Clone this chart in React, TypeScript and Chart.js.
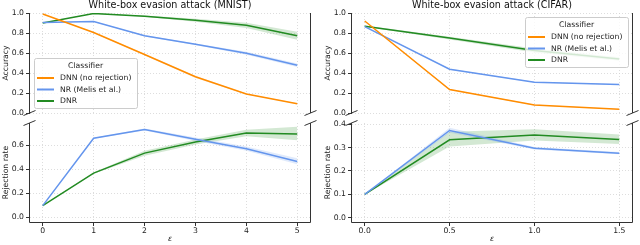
import React, { useEffect, useRef } from "react";
import { Chart, registerables } from "chart.js";
Chart.register(...registerables);

// ---------- data ----------
const mnistEps = [0, 1, 2, 3, 4, 5];
const cifarEps = [0, 0.5, 1.0, 1.5];
const mnistXTicks = [0, 1, 2, 3, 4, 5];
const cifarXTicks = [0, 0.5, 1.0, 1.5];
const accYTicks = [0, 0.2, 0.4, 0.6, 0.8, 1.0];
const mnistRejYTicks = [0, 0.2, 0.4, 0.6];
const cifarRejYTicks = [0, 0.1, 0.2, 0.3, 0.4];

const seriesNames = ["DNN (no rejection)", "NR (Melis et al.)", "DNR"];
const legendTitle = "Classifier";
const titles = ["White-box evasion attack (MNIST)", "White-box evasion attack (CIFAR)"];
const yTitles = ["Accuracy", "Rejection rate"];
const xTitle = "\u03b5";

// MNIST accuracy
const mnistAccDNN = [0.99, 0.805, 0.585, 0.362, 0.19, 0.093];
const mnistAccDNNLo = [0.99, 0.8, 0.578, 0.35, 0.184, 0.089];
const mnistAccDNNHi = [0.99, 0.81, 0.592, 0.372, 0.196, 0.097];
const mnistAccNR = [0.905, 0.915, 0.772, 0.688, 0.597, 0.477];
const mnistAccNRLo = [0.905, 0.912, 0.766, 0.68, 0.582, 0.46];
const mnistAccNRHi = [0.905, 0.918, 0.778, 0.696, 0.612, 0.494];
const mnistAccDNR = [0.9, 0.995, 0.968, 0.928, 0.878, 0.772];
const mnistAccDNRLo = [0.9, 0.992, 0.962, 0.912, 0.85, 0.732];
const mnistAccDNRHi = [0.9, 0.998, 0.974, 0.942, 0.902, 0.812];

// MNIST rejection rate
const mnistRejNR = [0.097, 0.656, 0.728, 0.648, 0.57, 0.464];
const mnistRejNRLo = [0.097, 0.652, 0.72, 0.634, 0.552, 0.44];
const mnistRejNRHi = [0.097, 0.66, 0.738, 0.662, 0.588, 0.49];
const mnistRejDNR = [0.097, 0.367, 0.533, 0.625, 0.7, 0.692];
const mnistRejDNRLo = [0.097, 0.362, 0.512, 0.605, 0.672, 0.64];
const mnistRejDNRHi = [0.097, 0.372, 0.553, 0.645, 0.726, 0.752];

// CIFAR accuracy
const cifarAccDNN = [0.92, 0.234, 0.08, 0.037];
const cifarAccDNNLo = [0.917, 0.229, 0.076, 0.034];
const cifarAccDNNHi = [0.923, 0.239, 0.084, 0.04];
const cifarAccNR = [0.863, 0.438, 0.308, 0.284];
const cifarAccNRLo = [0.86, 0.433, 0.304, 0.28];
const cifarAccNRHi = [0.866, 0.443, 0.312, 0.288];
const cifarAccDNR = [0.868, 0.749, 0.625, 0.54];
const cifarAccDNRLo = [0.862, 0.735, 0.605, 0.522];
const cifarAccDNRHi = [0.874, 0.763, 0.645, 0.558];

// CIFAR rejection rate
const cifarRejNR = [0.1, 0.373, 0.297, 0.276];
const cifarRejNRLo = [0.1, 0.363, 0.292, 0.271];
const cifarRejNRHi = [0.1, 0.385, 0.302, 0.281];
const cifarRejDNR = [0.1, 0.333, 0.354, 0.334];
const cifarRejDNRLo = [0.1, 0.305, 0.33, 0.315];
const cifarRejDNRHi = [0.1, 0.368, 0.378, 0.356];

// ---------- styles ----------
const COLORS = ["#ff8c00", "#6495ed", "#228b22"];
const BAND_ALPHA = 0.2;
const FONT = "'DejaVu Sans'";
const TICK_SIZE = 7.7;
const GRID_COLOR = "#d4d4d4";
const SPINE = "#333333";

function rgba(hex: string, a: number) {
  const n = parseInt(hex.slice(1), 16);
  return `rgba(${(n >> 16) & 255},${(n >> 8) & 255},${n & 255},${a})`;
}

interface Series { mid: number[]; lo: number[]; hi: number[]; color: string }
interface Area { left: number; right: number; top: number; bottom: number }
interface PanelSpec {
  part: "top" | "bottom";
  area: Area;
  eps: number[];
  xTicks: number[];
  xMin: number;
  xMax: number;
  xDecimals: number;
  yTicks: number[];
  yMin: number;
  yMax: number;
  yTitle: string;
  series: Series[];
  title?: string;
  legend?: "lowerleft" | "upperright";
}

const W = 640;
const H = 245;
const YAXIS_W = 30;
const XAXIS_H = 23;

function drawLegend(ctx: CanvasRenderingContext2D, x: number, y: number) {
  const w = 103, h = 50;
  ctx.save();
  ctx.beginPath();
  if ((ctx as any).roundRect) (ctx as any).roundRect(x + 0.5, y + 0.5, w, h, 2);
  else ctx.rect(x + 0.5, y + 0.5, w, h);
  ctx.fillStyle = "rgba(255,255,255,0.8)";
  ctx.fill();
  ctx.strokeStyle = "#cccccc";
  ctx.lineWidth = 1;
  ctx.stroke();
  ctx.fillStyle = "#222";
  ctx.font = `${TICK_SIZE}px ${FONT}`;
  ctx.textBaseline = "middle";
  ctx.textAlign = "center";
  ctx.fillText(legendTitle, x + w / 2, y + 8);
  ctx.textAlign = "left";
  seriesNames.forEach((name, i) => {
    const yy = y + 20 + i * 11.5;
    ctx.strokeStyle = COLORS[i];
    ctx.lineWidth = 2;
    ctx.beginPath();
    ctx.moveTo(x + 3, yy);
    ctx.lineTo(x + 20, yy);
    ctx.stroke();
    ctx.fillStyle = "#222";
    ctx.fillText(name, x + 26, yy + 0.5);
  });
  ctx.restore();
}

function makeDecor(spec: PanelSpec) {
  return {
    id: "decor",
    afterDraw(chart: any) {
      const ctx: CanvasRenderingContext2D = chart.ctx;
      const { left, right, top, bottom } = chart.chartArea;
      ctx.save();
      ctx.strokeStyle = SPINE;
      ctx.lineWidth = 1;
      const L = Math.round(left) - 0.5;
      const R = Math.round(right) + 0.5;
      ctx.beginPath();
      ctx.moveTo(L, top);
      ctx.lineTo(L, bottom + (spec.part === "bottom" ? 0.5 : 0));
      ctx.moveTo(R, top);
      ctx.lineTo(R, bottom + (spec.part === "bottom" ? 0.5 : 0));
      if (spec.part === "bottom") {
        const B = Math.round(bottom) + 0.5;
        ctx.moveTo(L, B);
        ctx.lineTo(R, B);
      }
      ctx.stroke();
      // broken-axis marks
      const by = spec.part === "top" ? bottom : top;
      ctx.beginPath();
      for (const sx of [L, R]) {
        ctx.moveTo(sx - 6, by + 2.5);
        ctx.lineTo(sx + 6, by - 2.5);
      }
      ctx.stroke();
      if (spec.title) {
        ctx.fillStyle = "#111";
        ctx.font = `9.6px ${FONT}`;
        ctx.textAlign = "center";
        ctx.textBaseline = "middle";
        ctx.fillText(spec.title, (left + right) / 2, 5.5);
      }
      ctx.restore();
      if (spec.legend === "lowerleft") drawLegend(ctx, left + 4, bottom - 55);
      if (spec.legend === "upperright") drawLegend(ctx, right - 107, top + 4);
    },
  };
}

function makeConfig(spec: PanelSpec): any {
  const datasets: any[] = [];
  spec.series.forEach((s) => {
    const pts = (arr: number[]) => spec.eps.map((x, i) => ({ x, y: arr[i] }));
    datasets.push({ data: pts(s.lo), borderWidth: 0, pointRadius: 0, fill: false, order: 5, borderColor: "transparent" });
    datasets.push({ data: pts(s.hi), borderWidth: 0, pointRadius: 0, fill: "-1", order: 5, borderColor: "transparent", backgroundColor: rgba(s.color, BAND_ALPHA) });
    datasets.push({ data: pts(s.mid), borderWidth: 1.5, pointRadius: 0, fill: false, order: 0, borderColor: s.color });
  });
  const isTop = spec.part === "top";
  const tickFont = { family: FONT, size: TICK_SIZE };
  return {
    type: "line",
    data: { datasets },
    plugins: [makeDecor(spec)],
    options: {
      responsive: false,
      animation: false,
      devicePixelRatio: 1,
      events: [],
      layout: {
        padding: {
          left: spec.area.left - YAXIS_W,
          right: W - spec.area.right,
          top: spec.area.top,
          bottom: isTop ? H - spec.area.bottom : H - spec.area.bottom - XAXIS_H,
        },
      },
      elements: { line: { tension: 0 }, point: { radius: 0 } },
      plugins: { legend: { display: false }, tooltip: { enabled: false }, title: { display: false } },
      scales: {
        x: {
          type: "linear",
          min: spec.xMin,
          max: spec.xMax,
          afterBuildTicks: (s: any) => { s.ticks = spec.xTicks.map((v) => ({ value: v })); },
          afterFit: (s: any) => { s.height = isTop ? 0 : XAXIS_H; },
          grid: { color: GRID_COLOR, lineWidth: 0.8, drawTicks: !isTop, tickColor: SPINE, tickLength: 4, tickWidth: 1, tickBorderDash: [] },
          border: { display: false, dash: [1, 2] },
          ticks: {
            display: !isTop,
            font: tickFont,
            color: "#222",
            padding: 0,
            maxRotation: 0,
            autoSkip: false,
            callback: (v: any, i: number) => spec.xTicks[i].toFixed(spec.xDecimals),
          },
          title: { display: !isTop, text: xTitle, font: { family: FONT, size: TICK_SIZE, style: "italic" }, color: "#222", padding: { top: 0, bottom: 1 } },
        },
        y: {
          type: "linear",
          min: spec.yMin,
          max: spec.yMax,
          afterBuildTicks: (s: any) => { s.ticks = spec.yTicks.map((v) => ({ value: v })); },
          afterFit: (s: any) => { s.width = YAXIS_W; },
          grid: { color: GRID_COLOR, lineWidth: 0.8, drawTicks: true, tickColor: SPINE, tickLength: 4, tickWidth: 1, tickBorderDash: [] },
          border: { display: false, dash: [1, 2] },
          ticks: {
            font: tickFont,
            color: "#222",
            padding: 2,
            autoSkip: false,
            callback: (v: any, i: number) => spec.yTicks[i].toFixed(1),
          },
          title: { display: true, text: spec.yTitle, font: { family: FONT, size: TICK_SIZE }, color: "#222", padding: { top: 1, bottom: 0 } },
        },
      },
    },
  };
}

const mkSeries = (groups: number[][][], colorIdx: number[]): Series[] =>
  groups.map((g, i) => ({ mid: g[0], lo: g[1], hi: g[2], color: COLORS[colorIdx[i]] }));

const LEFT = { left: 30, right: 310 };
const RIGHT = { left: 352, right: 632 };
const TOPROW = { top: 13, bottom: 113 };
const BOTROW = { top: 123, bottom: 222 };

const panels: PanelSpec[] = [
  {
    part: "top", area: { ...LEFT, ...TOPROW }, eps: mnistEps, xTicks: mnistXTicks, xMin: -0.25, xMax: 5.25, xDecimals: 0,
    yTicks: accYTicks, yMin: 0, yMax: 1.0, yTitle: yTitles[0], title: titles[0], legend: "lowerleft",
    series: mkSeries([
      [mnistAccDNN, mnistAccDNNLo, mnistAccDNNHi],
      [mnistAccNR, mnistAccNRLo, mnistAccNRHi],
      [mnistAccDNR, mnistAccDNRLo, mnistAccDNRHi],
    ], [0, 1, 2]),
  },
  {
    part: "bottom", area: { ...LEFT, ...BOTROW }, eps: mnistEps, xTicks: mnistXTicks, xMin: -0.25, xMax: 5.25, xDecimals: 0,
    yTicks: mnistRejYTicks, yMin: -0.039, yMax: 0.783, yTitle: yTitles[1],
    series: mkSeries([
      [mnistRejNR, mnistRejNRLo, mnistRejNRHi],
      [mnistRejDNR, mnistRejDNRLo, mnistRejDNRHi],
    ], [1, 2]),
  },
  {
    part: "top", area: { ...RIGHT, ...TOPROW }, eps: cifarEps, xTicks: cifarXTicks, xMin: -0.075, xMax: 1.575, xDecimals: 1,
    yTicks: accYTicks, yMin: 0, yMax: 1.0, yTitle: yTitles[0], title: titles[1], legend: "upperright",
    series: mkSeries([
      [cifarAccDNN, cifarAccDNNLo, cifarAccDNNHi],
      [cifarAccNR, cifarAccNRLo, cifarAccNRHi],
      [cifarAccDNR, cifarAccDNRLo, cifarAccDNRHi],
    ], [0, 1, 2]),
  },
  {
    part: "bottom", area: { ...RIGHT, ...BOTROW }, eps: cifarEps, xTicks: cifarXTicks, xMin: -0.075, xMax: 1.575, xDecimals: 1,
    yTicks: cifarRejYTicks, yMin: -0.018, yMax: 0.405, yTitle: yTitles[1],
    series: mkSeries([
      [cifarRejNR, cifarRejNRLo, cifarRejNRHi],
      [cifarRejDNR, cifarRejDNRLo, cifarRejDNRHi],
    ], [1, 2]),
  },
];

function Panel({ spec }: { spec: PanelSpec }) {
  const ref = useRef<HTMLCanvasElement | null>(null);
  useEffect(() => {
    if (!ref.current) return;
    const chart = new Chart(ref.current, makeConfig(spec));
    return () => chart.destroy();
  }, [spec]);
  return (
    <canvas
      ref={ref}
      width={W}
      height={H}
      style={{ position: "absolute", left: 0, top: 0, width: W, height: H }}
    />
  );
}

export default function App() {
  Chart.defaults.font.family = FONT;
  return (
    <div style={{ position: "fixed", left: 0, top: 0, width: W, height: H, background: "#fff" }}>
      {panels.map((p, i) => (
        <Panel key={i} spec={p} />
      ))}
    </div>
  );
}
